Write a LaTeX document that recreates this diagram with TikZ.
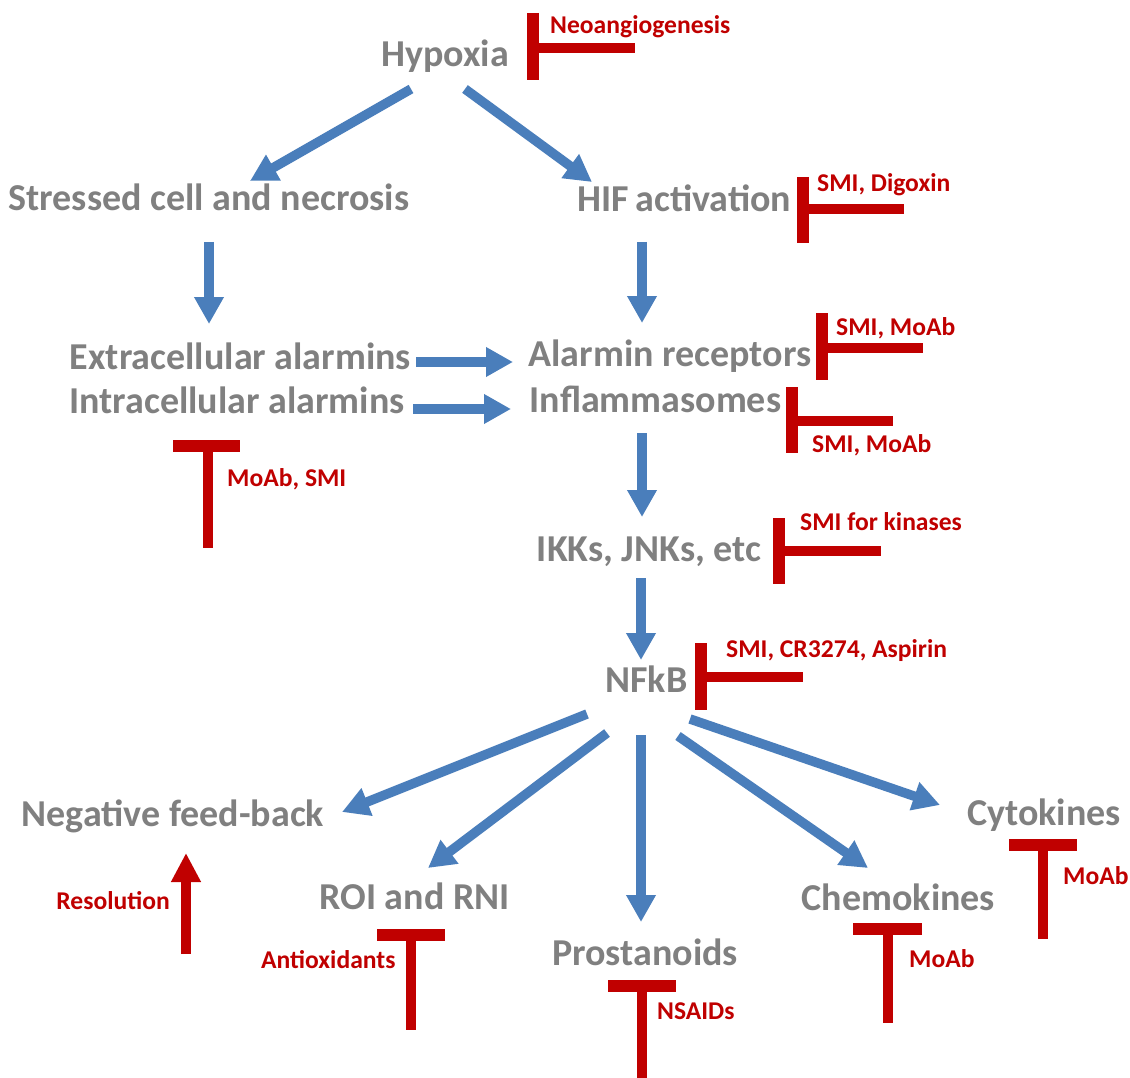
\documentclass[tikz,border=0pt]{standalone}
\usepackage{fontspec}
\setmainfont{Carlito}
\usetikzlibrary{arrows.meta,calc}
\definecolor{txtgray}{RGB}{128,128,128}
\definecolor{inhred}{RGB}{192,0,0}
\definecolor{flowblue}{RGB}{74,126,187}
\tikzset{
  lbl/.style={text=txtgray, font=\fontsize{38}{42}\selectfont\bfseries, inner sep=0pt, anchor=base},
  drug/.style={text=inhred, font=\fontsize{25.6}{29}\selectfont\bfseries, inner sep=0pt, anchor=base west},
  flow/.style={draw=flowblue, line width=9.5pt, -{Triangle[width=28pt,length=27pt]}},
  tbar/.style={draw=inhred, line width=12pt},
  tstem/.style={draw=inhred, line width=10pt},
  upflow/.style={draw=inhred, line width=10pt, -{Triangle[width=28pt,length=29pt]}},
}
\begin{document}
\begin{tikzpicture}[x=1pt,y=-1pt]
\fill[white] (0,0) rectangle (1130,1078);
\path[use as bounding box] (0,0) rectangle (1130,1078);

% main nodes (placed at baseline)
\node[lbl] (hyp)    at (445,67)    {Hypoxia};
\node[lbl] (stress) at (209,211)   {Stressed cell and necrosis};
\node[lbl] (hif)    at (684.5,212) {HIF\,activation};
\node[lbl] (extra)  at (240.5,369) {Extracellular alarmins};
\node[lbl] (intra)  at (237,413)   {Intracellular alarmins};
\node[lbl] (alarm)  at (670,366)   {Alarmin receptors};
\node[lbl] (inflam) at (655.5,412) {Inflammasomes};
\node[lbl] (ikk)    at (649,561)   {IKKs, JNKs, etc};
\node[lbl] (nfkb)   at (646.5,692) {NFkB};
\node[lbl] (neg)    at (173,826)   {Negative feed-back};
\node[lbl] (roi)    at (414.5,909) {ROI and RNI};
\node[lbl] (prost)  at (645,965)   {Prostanoids};
\node[lbl] (chem)   at (898.5,910) {Chemokines};
\node[lbl] (cyto)   at (1044,825)  {Cytokines};

% drug labels
\node[drug] (dneo)  at (550,34)   {Neoangiogenesis};
\node[drug] (ddig)  at (817,192)  {SMI, Digoxin};
\node[drug] (dmoa1) at (836,335)  {SMI, MoAb};
\node[drug] (dmoa2) at (812,452)  {SMI, MoAb};
\node[drug] (dmsmi) at (227,486)  {MoAb, SMI};
\node[drug] (dkin)  at (800,530)  {SMI for kinases};
\node[drug] (dasp)  at (726,657)  {SMI, CR3274, Aspirin};
\node[drug,anchor=base east] (dres) at (170,909) {Resolution};
\node[drug] (dant)  at (261,968)  {Antioxidants};
\node[drug] (dnsa)  at (657,1019) {NSAIDs};
\node[drug] (dmch)  at (909,967)  {MoAb};
\node[drug] (dmcy)  at (1063,884) {MoAb};

% blue flow arrows
\draw[flow] ($(hyp.base)+(-34,22)$) -- ($(stress.base)+(41,-30)$);
\draw[flow] ($(hyp.base)+(20,22)$) -- ($(hif.base)+(-92.5,-30)$);
\draw[flow] ($(stress.base)+(0,31)$) -- ($(extra.base)+(-31.5,-45)$);
\draw[flow] ($(hif.base)+(-42.5,30)$) -- ($(alarm.base)+(-28,-43)$);
\draw[flow] ($(extra.base)+(175.5,-7)$) -- ($(alarm.base)+(-157,-4)$);
\draw[flow] ($(intra.base)+(176,-4)$) -- ($(inflam.base)+(-144.5,-3)$);
\draw[flow] ($(inflam.base)+(-13.5,21)$) -- ($(ikk.base)+(-7,-44)$);
\draw[flow] ($(ikk.base)+(-8,17)$) -- ($(nfkb.base)+(-5.5,-32)$);
\draw[flow] ($(nfkb.base)+(-59.5,22)$) -- ($(neg.base)+(169,-14)$);
\draw[flow] ($(nfkb.base)+(-39.5,41)$) -- ($(roi.base)+(13.5,-41)$);
\draw[flow] ($(nfkb.base)+(-5.5,43)$) -- ($(prost.base)+(-4,-43)$);
\draw[flow] ($(nfkb.base)+(31.5,44)$) -- ($(chem.base)+(-30.5,-42)$);
\draw[flow] ($(nfkb.base)+(43.5,27)$) -- ($(cyto.base)+(-104,-20)$);

% side inhibitors
\draw[tbar] (533,13) -- (533,80);   \draw[tstem] (539,48) -- (635,48);
\draw[tbar] (803,177) -- (803,243); \draw[tstem] (809,209.5) -- (904,209.5);
\draw[tbar] (822,313) -- (822,380); \draw[tstem] (828,348) -- (923,348);
\draw[tbar] (792,387) -- (792,453); \draw[tstem] (798,420.5) -- (893,420.5);
\draw[tbar] (779,518) -- (779,584); \draw[tstem] (785,550.5) -- (881,550.5);
\draw[tbar] (701,643) -- (701,710); \draw[tstem] (707,677) -- (803,677);

% lower inhibitors
\draw[tbar] (173,446) -- (240,446);   \draw[tstem] (208,452) -- (208,548);
\draw[tbar] (377,935) -- (445,935);   \draw[tstem] (411,941) -- (411,1030);
\draw[tbar] (608,986) -- (676,986);   \draw[tstem] (642,992) -- (642,1078);
\draw[tbar] (853,929) -- (922,929);   \draw[tstem] (888,935) -- (888,1023);
\draw[tbar] (1009,845) -- (1077,845); \draw[tstem] (1043,851) -- (1043,939);

% resolution arrow
\draw[upflow] (186,954) -- (186,853);
\end{tikzpicture}
\end{document}
